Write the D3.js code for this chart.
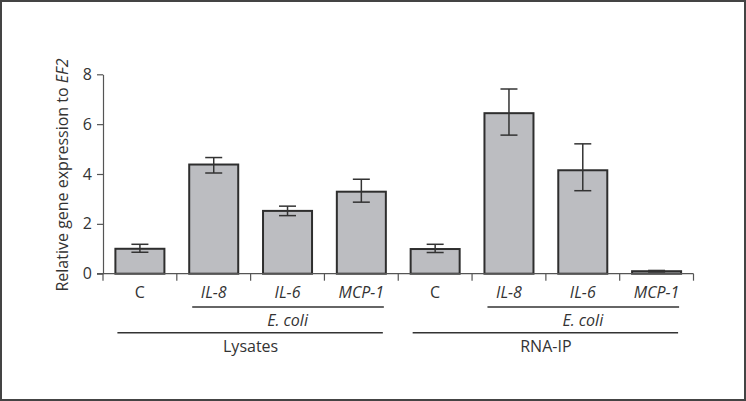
<!DOCTYPE html>
<html>
<head>
<meta charset="utf-8">
<script src="https://cdn.jsdelivr.net/npm/d3@7"></script>
<style>
  html, body { margin: 0; padding: 0; background: #fff; }
  svg { display: block; }
  text { font-family: "Open Sans", "Noto Sans", sans-serif; fill: #333; }
</style>
</head>
<body>
<svg id="chart" width="746" height="401"></svg>
<script>
// ---- data ----
const categories = ["C", "IL-8", "IL-6", "MCP-1", "C", "IL-8", "IL-6", "MCP-1"];
const italicCat  = [false, true, true, true, false, true, true, true];
const values     = [1.00, 4.38, 2.52, 3.29, 0.99, 6.44, 4.15, 0.10];
const errUpper   = [1.18, 4.66, 2.71, 3.79, 1.18, 7.41, 5.21, 0.13];
const errLower   = [0.86, 4.04, 2.33, 2.87, 0.85, 5.56, 3.33, 0.07];
const yTicks     = [0, 2, 4, 6, 8];
const groups     = [
  { name: "Lysates", from: 0, to: 3, sub: "E. coli", subFrom: 1, subTo: 3 },
  { name: "RNA-IP",  from: 4, to: 7, sub: "E. coli", subFrom: 5, subTo: 7 }
];
const yLabel = ["Relative gene expression to ", "EF2"];

// ---- layout ----
const svg = d3.select("#chart");
const ink = "#333";

svg.append("rect").attr("x", 1).attr("y", 1).attr("width", 744).attr("height", 399)
  .attr("fill", "none").attr("stroke", "#444").attr("stroke-width", 2);

const x = d3.scaleBand().domain(d3.range(categories.length))
  .range([103, 693.5]).paddingInner(0.336).paddingOuter(0.168);
const y = d3.scaleLinear().domain([0, 8]).range([273.7, 74.3]);

// bars
svg.append("g").selectAll("rect").data(values).join("rect")
  .attr("x", (d, i) => x(i)).attr("width", x.bandwidth())
  .attr("y", d => y(d)).attr("height", d => y(0) - y(d))
  .attr("fill", "#bcbdc1").attr("stroke", "#2e2e2e").attr("stroke-width", 2);

// error bars
const eb = svg.append("g").attr("stroke", ink).attr("stroke-width", 1.5);
values.forEach((v, i) => {
  const cx = x(i) + x.bandwidth() / 2;
  eb.append("line").attr("x1", cx).attr("x2", cx).attr("y1", y(errUpper[i])).attr("y2", y(errLower[i]));
  eb.append("line").attr("x1", cx - 8.5).attr("x2", cx + 8.5).attr("y1", y(errUpper[i])).attr("y2", y(errUpper[i]));
  eb.append("line").attr("x1", cx - 8.5).attr("x2", cx + 8.5).attr("y1", y(errLower[i])).attr("y2", y(errLower[i]));
});

// y axis
const yAxis = svg.append("g").attr("transform", "translate(103,0)")
  .call(d3.axisLeft(y).tickValues(yTicks).tickSize(6).tickPadding(5).tickSizeOuter(0));
yAxis.select(".domain").attr("stroke", "#555").attr("stroke-width", 1.2);
yAxis.selectAll(".tick line").attr("stroke", "#555").attr("stroke-width", 1.2);
yAxis.selectAll(".tick text").style("font-size", "16px").attr("fill", ink)
  .style("font-family", "'Open Sans', sans-serif");

// x axis (baseline with band-boundary ticks)
const bounds = d3.range(categories.length).map(i => x(i) - x.step() * x.paddingInner() / 2)
  .concat([x.range()[1]]);
bounds[0] = x.range()[0];
const xa = svg.append("g").attr("stroke", "#555").attr("stroke-width", 1.2);
xa.append("line").attr("x1", 97).attr("x2", x.range()[1]).attr("y1", y(0)).attr("y2", y(0));
bounds.forEach(b => {
  xa.append("line").attr("x1", b).attr("x2", b).attr("y1", y(0)).attr("y2", y(0) + 7);
});

// category labels
svg.append("g").selectAll("text").data(categories).join("text")
  .attr("x", (d, i) => x(i) + x.bandwidth() / 2).attr("y", 297.5)
  .attr("text-anchor", "middle").style("font-size", "16px")
  .style("font-style", (d, i) => italicCat[i] ? "italic" : "normal")
  .text(d => d);

// group lines and labels
const gl = svg.append("g");
groups.forEach(g => {
  const subX1 = x(g.subFrom) + 3, subX2 = x(g.subTo) + x.bandwidth() - 2;
  const x1 = x(g.from) + 2, x2 = x(g.to) + x.bandwidth() - 3;
  gl.append("line").attr("x1", subX1).attr("x2", subX2).attr("y1", 307).attr("y2", 307)
    .attr("stroke", ink).attr("stroke-width", 1.5);
  gl.append("text").attr("x", (x(g.subFrom) + x(g.subTo) + x.bandwidth()) / 2).attr("y", 326)
    .attr("text-anchor", "middle").style("font-size", "16px").style("font-style", "italic")
    .text(g.sub);
  gl.append("line").attr("x1", x1).attr("x2", x2).attr("y1", 332.7).attr("y2", 332.7)
    .attr("stroke", ink).attr("stroke-width", 1.5);
  gl.append("text").attr("x", (x(g.from) + x(g.to) + x.bandwidth()) / 2).attr("y", 352)
    .attr("text-anchor", "middle").style("font-size", "16px")
    .text(g.name);
});

// y label
const yl = svg.append("text").attr("transform", "translate(68,175) rotate(-90)")
  .attr("text-anchor", "middle").style("font-size", "16px");
yl.append("tspan").text(yLabel[0]);
yl.append("tspan").style("font-style", "italic").text(yLabel[1]);
</script>
</body>
</html>
